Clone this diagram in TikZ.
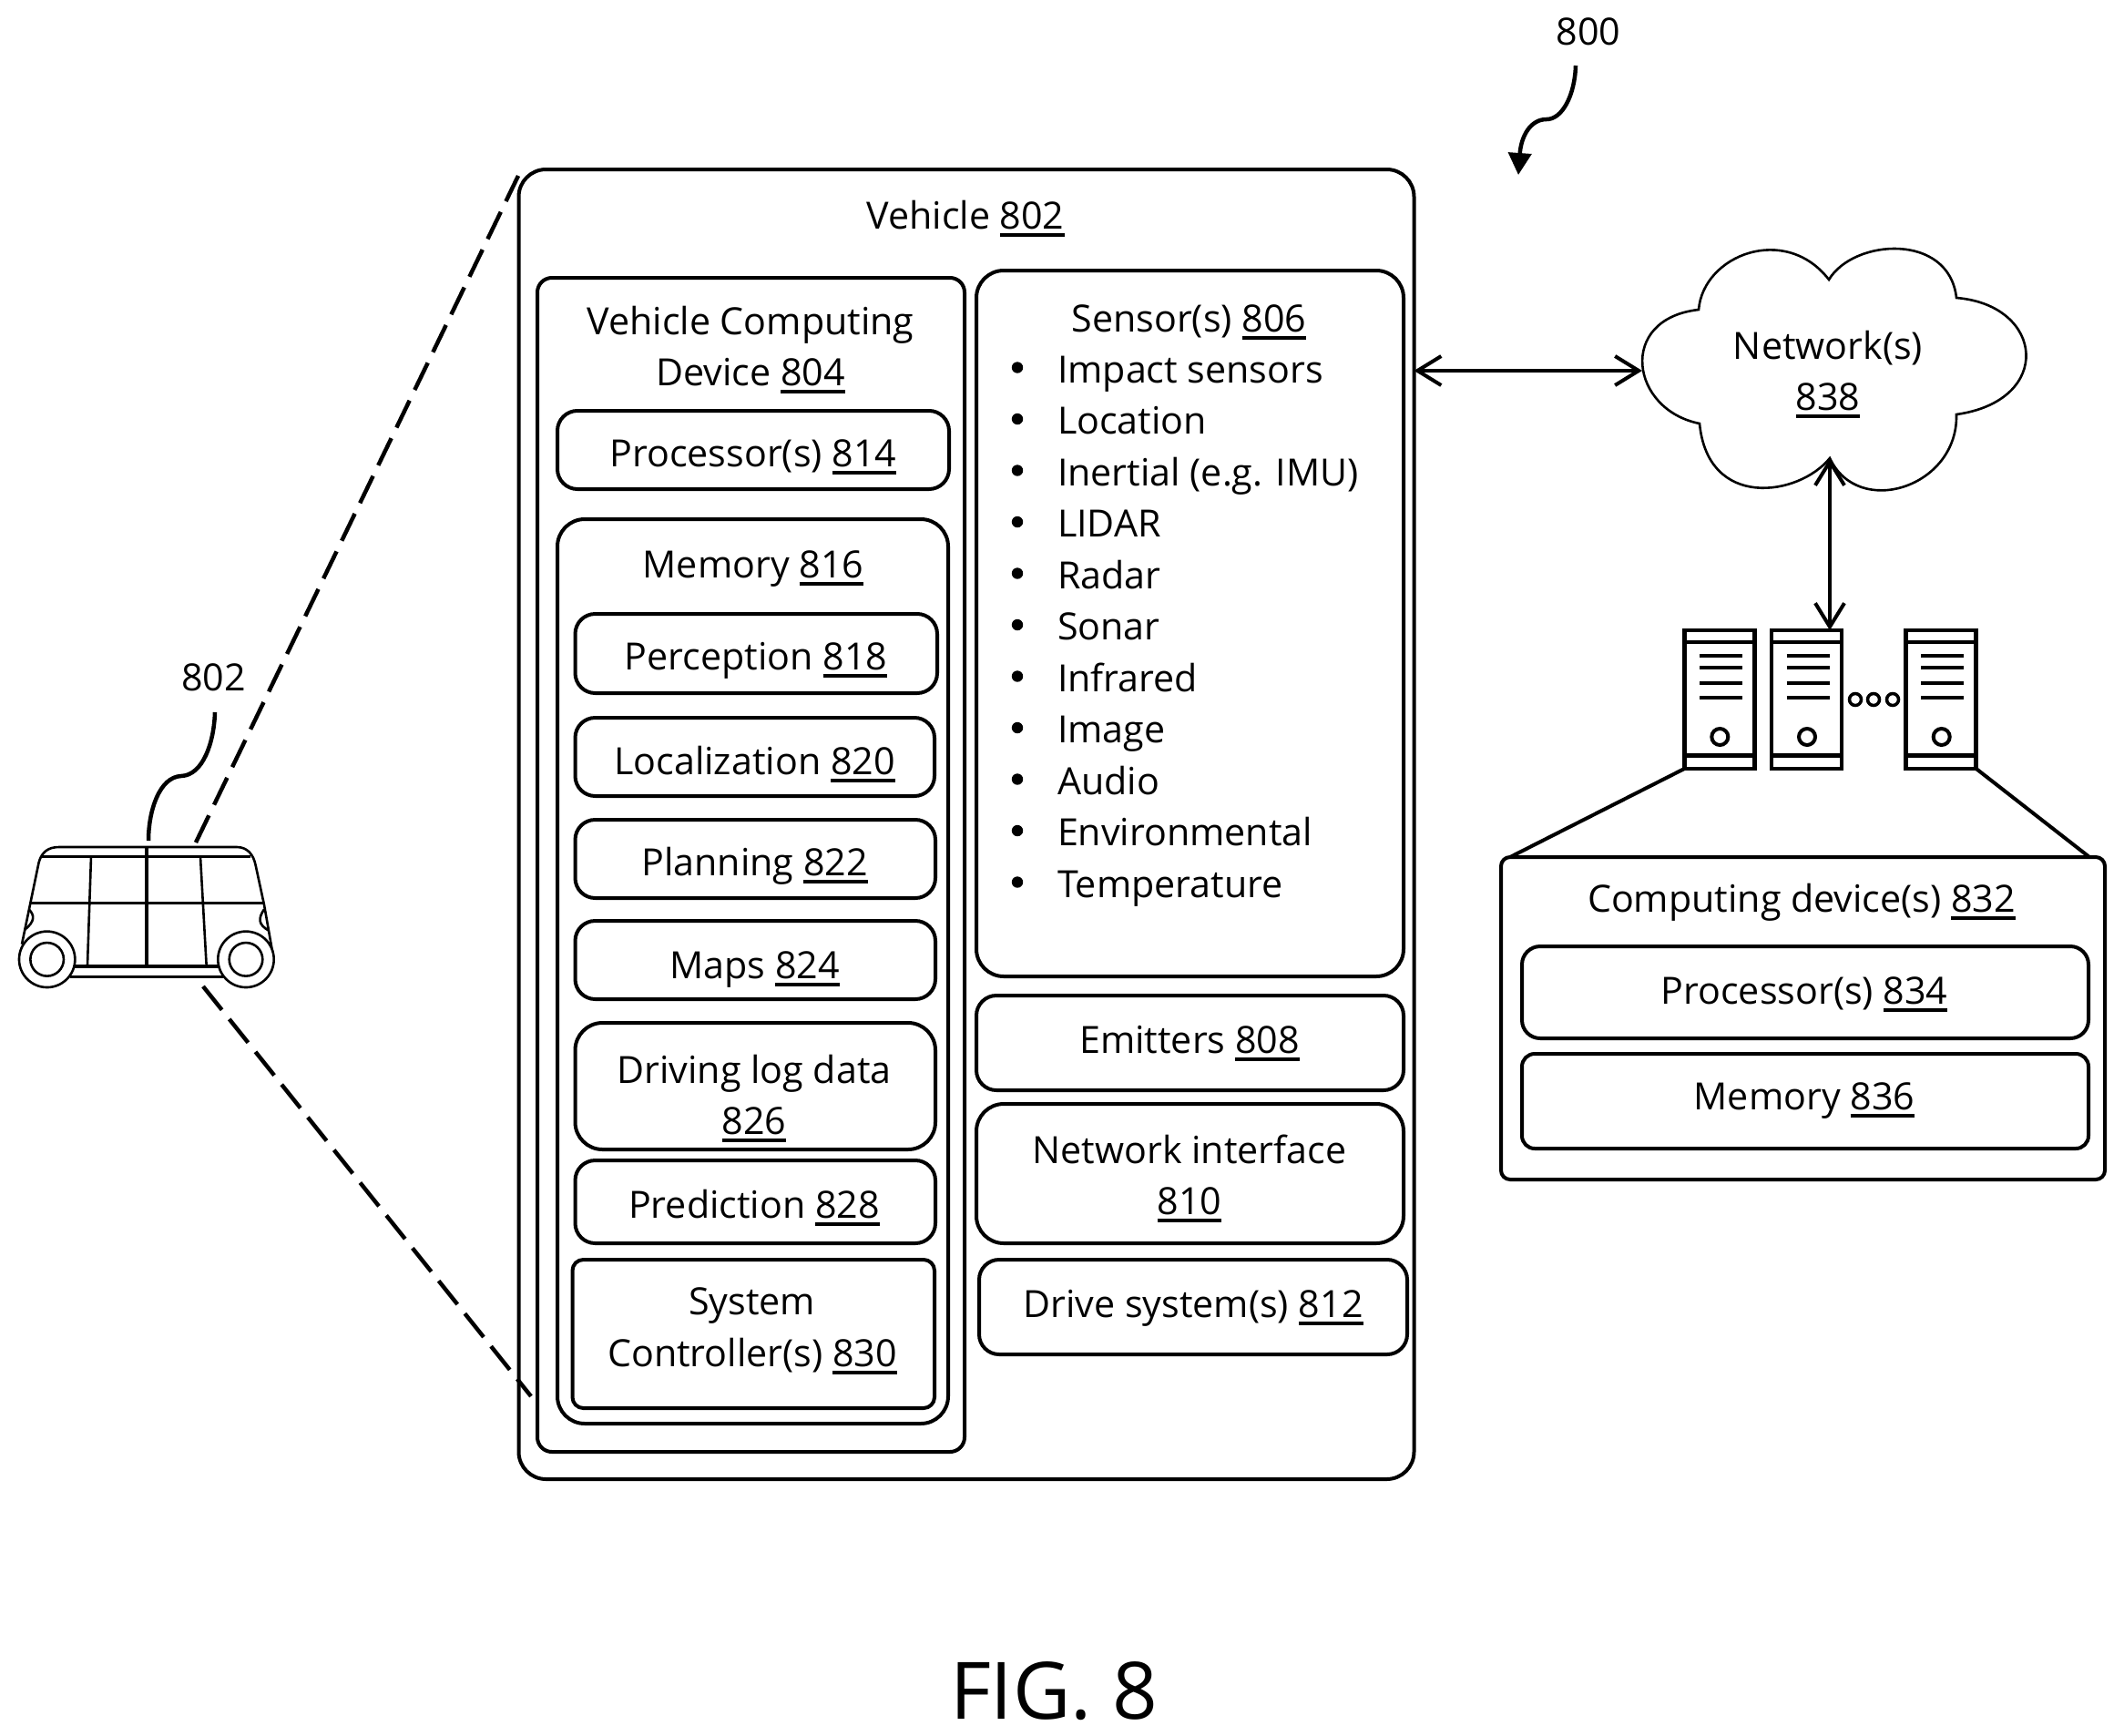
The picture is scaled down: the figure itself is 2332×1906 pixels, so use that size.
\documentclass[tikz,border=0pt]{standalone}
\usepackage{fontspec}
\setmainfont{Open Sans}
\usetikzlibrary{arrows.meta}
\newcommand\ulnum[1]{\setbox0\hbox{#1}\rlap{\raisebox{-8.5pt}{\rule{\wd0}{3.8pt}}}\box0}
\tikzset{
  box/.style={draw=black,line width=4pt,inner sep=0pt,outer sep=0pt,fill=none},
  lab/.style={anchor=base,inner sep=0pt,outer sep=0pt,font=\fontsize{41.2}{50}\selectfont,text=black},
  big/.style={anchor=base,inner sep=0pt,outer sep=0pt,font=\fontsize{87}{100}\selectfont,text=black},
  conn/.style={line width=4pt,draw=black},
  dbl/.style={line width=4pt,draw=black,{Straight Barb[length=26pt,width=32pt]}-{Straight Barb[length=26pt,width=32pt]}},
  dash line/.style={line width=4.5pt,draw=black,dash pattern=on 33pt off 13pt},
  car/.style={line width=2.6pt,draw=black},
  rack/.style={draw=black,line width=4.6pt,inner sep=0pt,outer sep=0pt,minimum width=77pt,minimum height=152pt}
}
\newcommand\bx[6]{\node[box,rounded corners=#6pt,minimum width={(#4-#2)*1pt},minimum height={(#5-#3)*1pt}] (#1) at ({(#2+#4)/2},{(#3+#5)/2}) {};}
\newcommand\rackat[2]{%
  \node[rack] (#1) at ({#2+38.5},768) {};
  \draw[line width=4pt] (#2,705) -- ({#2+77},705);
  \draw[line width=5pt] (#2,829) -- ({#2+77},829);
  \foreach \yy in {720,733,750,766} \draw[line width=4pt] ({#2+16.7},\yy) -- ({#2+63.7},\yy);
  \draw[line width=4pt] ({#2+39},809) circle[radius=9pt];
}
\begin{document}
\begin{tikzpicture}[x=1pt,y=-1pt]
\useasboundingbox (0,0) rectangle (2332,1906);
% boxes
\bx{vehicle}{569.5}{186}{1552.5}{1624}{30}
\bx{vcd}{590}{305}{1059}{1594}{16}
\bx{sensors}{1072}{297}{1541}{1072}{30}
\bx{procA}{612}{451}{1042}{537}{22}
\bx{memA}{612}{570}{1041}{1563}{30}
\bx{perc}{631.5}{674}{1029}{761}{22}
\bx{local}{631.5}{788}{1026}{874}{22}
\bx{plan}{631.5}{900}{1027}{986}{22}
\bx{maps}{631.5}{1011}{1027}{1097}{22}
\bx{dlog}{631.5}{1123}{1027}{1262}{30}
\bx{pred}{631.5}{1274}{1027}{1365}{22}
\bx{sysc}{628.5}{1383}{1026}{1546}{12}
\bx{emit}{1072}{1093}{1541}{1197}{22}
\bx{netif}{1072}{1212}{1541}{1365}{30}
\bx{drive}{1075}{1383}{1545}{1487}{22}
\bx{comp}{1648}{941}{2311}{1295}{10}
\bx{procB}{1671}{1039}{2293}{1140}{20}
\bx{memB}{1671}{1157}{2293}{1261}{14}
% labels
\node[lab] (tVeh) at (1060,251.5) {Vehicle \ulnum{802}};
\node[lab] (tVcdA) at (824,367) {Vehicle Computing};
\node[lab] (tVcdB) at (824,423) {Device \ulnum{804}};
\node[lab] (tProcA) at (827,512) {Processor(s) \ulnum{814}};
\node[lab] (tMemA) at (827,634) {Memory \ulnum{816}};
\node[lab] (tPerc) at (830,735.5) {Perception \ulnum{818}};
\node[lab] (tLocal) at (828.5,850.5) {Localization \ulnum{820}};
\node[lab] (tPlan) at (828.5,961.5) {Planning \ulnum{822}};
\node[lab] (tMaps) at (828.5,1074.5) {Maps \ulnum{824}};
\node[lab] (tDlogA) at (828,1189.5) {Driving log data};
\node[lab] (tDlogB) at (828,1245.5) {\ulnum{826}};
\node[lab] (tPred) at (828,1337) {Prediction \ulnum{828}};
\node[lab] (tSysA) at (825.5,1443) {System};
\node[lab] (tSysB) at (826,1500) {Controller(s) \ulnum{830}};
\node[lab] (tSens) at (1305.5,364.5) {Sensor(s) \ulnum{806}};
\foreach \t [count=\i] in {Impact sensors,Location,Inertial (e.g. IMU),LIDAR,Radar,Sonar,Infrared,Image,Audio,Environmental,Temperature}{
  \node[lab,anchor=base west] (item\i) at (1161,{420+(\i-1)*56.5}) {\t};
  \fill[black] (1117,{403.5+(\i-1)*56.5}) circle[radius=6.2pt];
}
\node[lab] (tEmit) at (1306,1156.5) {Emitters \ulnum{808}};
\node[lab] (tNetA) at (1306,1277.5) {Network interface};
\node[lab] (tNetB) at (1306,1333.5) {\ulnum{810}};
\node[lab] (tDrive) at (1310,1446.5) {Drive system(s) \ulnum{812}};
\node[lab] (tCloudA) at (2007,394) {Network(s)};
\node[lab] (tCloudB) at (2007,450) {\ulnum{838}};
\node[lab] (tComp) at (1978,1001) {Computing device(s) \ulnum{832}};
\node[lab] (tProcB) at (1981,1102) {Processor(s) \ulnum{834}};
\node[lab] (tMemB) at (1981,1218) {Memory \ulnum{836}};
\node[lab] (n802) at (234.5,758) {802};
\node[lab] (n800) at (1744,49) {800};
\node[big] (fig) at (1157,1887) {FIG. 8};
% cloud
\coordinate (cA) at (1865,340);
\coordinate (cB) at (2008,307);
\coordinate (cC) at (2148,327);
\coordinate (cD) at (2148,455);
\coordinate (cE) at (2009,503);
\coordinate (cF) at (1866,465);
\coordinate (cW) at (1803,407);
\draw[line width=2.6pt] (cA) .. controls (1870,280) and (1960,245) .. (cB)
  .. controls (2035,262) and (2140,255) .. (cC)
  .. controls (2245,335) and (2255,440) .. (cD)
  .. controls (2150,535) and (2040,570) .. (cE)
  .. controls (1975,545) and (1875,560) .. (cF)
  .. controls (1790,450) and (1775,350) .. cycle;
% servers
\rackat{srvA}{1849.3}
\rackat{srvB}{1945}
\rackat{srvC}{2092.7}
\foreach \xx/\nm in {2037/da,2057/db,2078/dc} \draw[line width=3.5pt] (\xx,768) circle[radius=6.5pt];
% connectors
\coordinate (vE) at (1552.5,407);
\draw[dbl] (vE) -- (cW);
\coordinate (cNotch) at (2009,503);
\coordinate (srvTop) at (2009,692);
\draw[dbl] (cNotch) -- (srvTop);
\coordinate (compL) at (1658,941);
\coordinate (compR) at (2294,941);
\draw[conn] (srvA.south west) -- (compL);
\draw[conn] (srvC.south east) -- (compR);
\coordinate (dsA) at (215,925);
\coordinate (deA) at (569,193);
\coordinate (dsB) at (223,1083);
\coordinate (deB) at (583,1533);
\draw[dash line] (dsA) -- (deA);
\draw[dash line] (dsB) -- (deB);
% leaders
\coordinate (lA) at (236,782);
\coordinate (lB) at (163,923);
\draw[line width=4.5pt] (lA) .. controls (235,815) and (223,851) .. (199,852) .. controls (175,853) and (163,890) .. (lB);
\coordinate (aA) at (1730,72);
\coordinate (aB) at (1667,192);
\draw[line width=4.5pt,-{Triangle[length=24pt,width=25pt]}] (aA) .. controls (1729,105) and (1715,131) .. (1698,131) .. controls (1680,131) and (1670,150) .. (aB);
% car
\begin{scope}[shift={(0,700)},x=0.33333pt,y=-0.33333pt]
\draw[car] (72,1010) -- (100,875) -- (128,740) .. controls (138,705) and (160,690) .. (195,690) -- (780,690) .. controls (815,690) and (835,715) .. (842,750) -- (870,880) -- (900,1050);
\draw[car,line width=3.4pt] (138,722) -- (825,722);
\draw[car,line width=3.4pt] (100,875) -- (870,875);
\draw[car] (300,722) -- (288,1080);
\draw[car,line width=4pt] (483,690) -- (483,1080);
\draw[car] (660,722) -- (680,1080);
\draw[car,line width=4pt] (240,1082) -- (725,1082);
\draw[car,line width=3.4pt] (230,1118) -- (735,1118);
\draw[car] (95,895) .. controls (115,915) and (115,935) .. (82,962);
\draw[car] (870,895) .. controls (850,925) and (850,945) .. (885,965);
\draw[car,fill=white] (155,1060) circle[radius=30.7pt];
\draw[car] (155,1060) circle[radius=18.3pt];
\draw[car,fill=white] (810,1060) circle[radius=30.7pt];
\draw[car] (810,1060) circle[radius=18.3pt];
\end{scope}
\end{tikzpicture}
\end{document}
